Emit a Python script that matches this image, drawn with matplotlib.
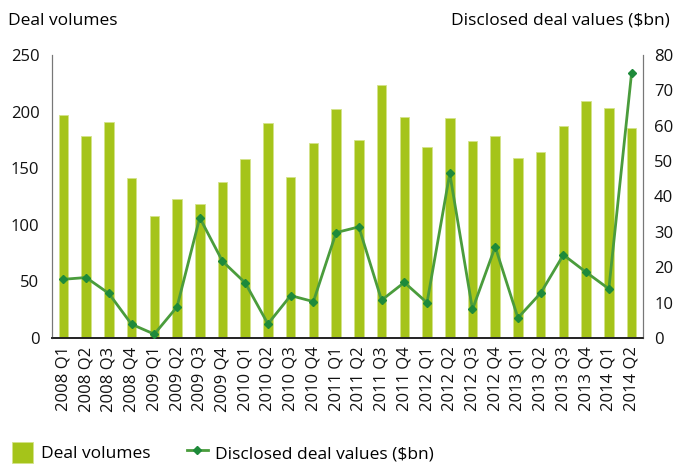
import matplotlib.pyplot as plt
import numpy as np

plt.rcParams['font.family'] = ['Open Sans', 'DejaVu Sans']

quarters = ['2008 Q1', '2008 Q2', '2008 Q3', '2008 Q4', '2009 Q1', '2009 Q2', '2009 Q3', '2009 Q4',
            '2010 Q1', '2010 Q2', '2010 Q3', '2010 Q4', '2011 Q1', '2011 Q2', '2011 Q3', '2011 Q4',
            '2012 Q1', '2012 Q2', '2012 Q3', '2012 Q4', '2013 Q1', '2013 Q2', '2013 Q3', '2013 Q4',
            '2014 Q1', '2014 Q2']
deal_volumes = [197, 178, 191, 141, 108, 123, 118, 138, 158, 190, 142, 172, 202,
                175, 223, 195, 169, 194, 174, 178, 159, 164, 187, 209, 203, 185]
deal_values = [16.6, 17.1, 12.6, 3.9, 1.1, 8.8, 34.0, 21.7, 15.6, 4.0, 12.0, 10.3, 29.8,
               31.4, 10.7, 15.7, 10.0, 46.5, 8.1, 25.8, 5.7, 12.7, 23.5, 18.6, 13.9, 74.9]

bar_col = '#a5c41a'
line_col = '#4a9c3c'
mark_col = '#1e8a3a'
fs = 12

fig = plt.figure(figsize=(6.8, 4.65), dpi=100)
ax = fig.add_axes([0.0765, 0.273, 0.869, 0.609])
x = np.arange(len(quarters))
ax.bar(x, deal_volumes, width=0.42, color=bar_col, edgecolor='#d4e38a', linewidth=0.6,
       label='Deal volumes', zorder=2)
ax.set_xlim(-0.5, len(quarters) - 0.5)
ax.set_ylim(0, 250)
ax.set_yticks(range(0, 251, 50))
ax.set_xticks(x)
ax.set_xticklabels(quarters, rotation=90, fontsize=fs)
ax.tick_params(axis='both', length=0, labelsize=fs, colors='#111111')
ax.tick_params(axis='y', pad=9)
ax.tick_params(axis='x', pad=6)

ax2 = ax.twinx()
ax2.plot(x, deal_values, color=line_col, lw=2, marker='D', markersize=4,
         markerfacecolor=mark_col, markeredgecolor=mark_col,
         label='Disclosed deal values ($bn)', zorder=3)
ax2.set_ylim(0, 80)
ax2.set_yticks(range(0, 81, 10))
ax2.tick_params(axis='y', length=0, labelsize=fs, colors='#111111', pad=8)

for a in (ax, ax2):
    a.spines['top'].set_visible(False)
    a.spines['left'].set_color('#777777')
    a.spines['right'].set_color('#777777')
    a.spines['bottom'].set_color('#222222')
    a.spines['bottom'].set_linewidth(1.2)

fig.text(0.012, 0.955, 'Deal volumes', fontsize=fs + 0.5, va='center', ha='left')
fig.text(0.985, 0.955, 'Disclosed deal values ($bn)', fontsize=fs + 0.5, va='center', ha='right')

h1, l1 = ax.get_legend_handles_labels()
h2, l2 = ax2.get_legend_handles_labels()
fig.legend(h1 + h2, l1 + l2, loc='lower left', bbox_to_anchor=(-0.005, -0.03), ncol=2,
           frameon=False, fontsize=fs + 0.5, handlelength=1.2, handleheight=1.5,
           columnspacing=2.1, handletextpad=0.45)

fig.savefig('out.png', dpi=100)
